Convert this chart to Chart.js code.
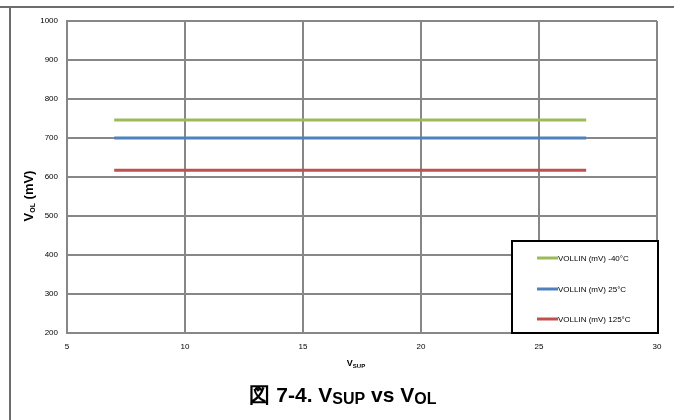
<!DOCTYPE html>
<html>
<head>
<meta charset="utf-8">
<script src="https://cdn.jsdelivr.net/npm/chart.js@4/dist/chart.umd.min.js"></script>
<style>
body { margin:0; background:#fff; }
</style>
</head>
<body>
<canvas id="graph" width="674" height="420"></canvas>
<script>
// données
const vsup = [7, 12, 17, 22, 27];
const volMinus40 = [746, 746, 746, 746, 746];
const vol25 = [700, 700, 700, 700, 700];
const vol125 = [617, 617, 617, 617, 617];
const seriesLabels = ['VOLLIN (mV) -40°C', 'VOLLIN (mV) 25°C', 'VOLLIN (mV) 125°C'];
const seriesColors = ['#9BBB59', '#4F81BD', '#C0504D'];
const xTicks = [5, 10, 15, 20, 25, 30];
const yTicks = [200, 300, 400, 500, 600, 700, 800, 900, 1000];

function pts(ys) {
  return vsup.map((x, i) => ({x: x, y: ys[i]}));
}

// texte avec indice
function subText(ctx, parts, x, y, align) {
  let w = 0;
  parts.forEach(p => { ctx.font = p.font; w += ctx.measureText(p.t).width; });
  let cx = align === 'center' ? x - w / 2 : x;
  parts.forEach(p => {
    ctx.font = p.font;
    ctx.fillText(p.t, cx, y + (p.dy || 0));
    cx += ctx.measureText(p.t).width;
  });
}

const decor = {
  id: 'decor',
  beforeDraw(chart) {
    const ctx = chart.ctx;
    ctx.save();
    ctx.strokeStyle = '#6d6d6d';
    ctx.lineWidth = 2;
    ctx.beginPath();
    ctx.moveTo(0, 7); ctx.lineTo(674, 7);
    ctx.moveTo(10, 7); ctx.lineTo(10, 420);
    ctx.stroke();
    ctx.restore();
  },
  afterDraw(chart) {
    const ctx = chart.ctx;
    ctx.save();
    ctx.fillStyle = '#000';
    ctx.textBaseline = 'alphabetic';
    ctx.textAlign = 'left';
    // titre axe x
    subText(ctx, [
      {t: 'V', font: 'bold 9px "Liberation Sans", Arial, sans-serif'},
      {t: 'SUP', font: 'bold 6px "Liberation Sans", Arial, sans-serif', dy: 2}
    ], 356, 366, 'center');
    // titre axe y
    ctx.translate(33, 196);
    ctx.rotate(-Math.PI / 2);
    subText(ctx, [
      {t: 'V', font: 'bold 13px "Liberation Sans", Arial, sans-serif'},
      {t: 'OL', font: 'bold 7px "Liberation Sans", Arial, sans-serif', dy: 2},
      {t: ' (mV)', font: 'bold 13px "Liberation Sans", Arial, sans-serif'}
    ], 0, 0, 'center');
    ctx.restore();

    // légende
    ctx.save();
    const lx = 512, ly = 241, lw = 146, lh = 92;
    ctx.fillStyle = '#fff';
    ctx.fillRect(lx, ly, lw, lh);
    ctx.strokeStyle = '#000';
    ctx.lineWidth = 2;
    ctx.strokeRect(lx, ly, lw, lh);
    const rows = [258, 289, 319];
    chart.data.datasets.forEach((ds, i) => {
      ctx.strokeStyle = ds.borderColor;
      ctx.lineWidth = 3;
      ctx.beginPath();
      ctx.moveTo(537, rows[i]); ctx.lineTo(558, rows[i]);
      ctx.stroke();
      ctx.fillStyle = '#000';
      ctx.font = '8px "Liberation Sans", Arial, sans-serif';
      ctx.textBaseline = 'middle';
      ctx.fillText(ds.label, 558, rows[i] + 0.5);
    });
    ctx.restore();

    // légende de figure
    ctx.save();
    ctx.fillStyle = '#000';
    ctx.textBaseline = 'alphabetic';
    const big = 'bold 21px "Liberation Sans", Arial, sans-serif';
    const small = 'bold 16px "Liberation Sans", Arial, sans-serif';
    subText(ctx, [
      {t: '図 7-4. V', font: big},
      {t: 'SUP', font: small, dy: 2},
      {t: ' vs V', font: big},
      {t: 'OL', font: small, dy: 2}
    ], 343, 402, 'center');
    ctx.restore();
  }
};

const tickFont = { size: 8, family: '"Liberation Sans", Arial, sans-serif' };

const graph = document.getElementById('graph');
new Chart(graph, {
  type: 'line',
  data: {
    datasets: [
      {label: seriesLabels[0], data: pts(volMinus40), borderColor: seriesColors[0]},
      {label: seriesLabels[1], data: pts(vol25), borderColor: seriesColors[1]},
      {label: seriesLabels[2], data: pts(vol125), borderColor: seriesColors[2]}
    ].map(d => Object.assign(d, {borderWidth: 3, pointRadius: 0, fill: false, tension: 0}))
  },
  options: {
    responsive: false,
    animation: false,
    layout: { padding: { left: 0, top: 21, right: 17, bottom: 0 } },
    plugins: { legend: { display: false }, title: { display: false }, tooltip: { enabled: false } },
    scales: {
      x: {
        type: 'linear',
        min: 5, max: 30,
        afterBuildTicks: s => { s.ticks = xTicks.map(v => ({value: v})); },
        afterFit: s => { s.height = 87; },
        grid: { color: '#878787', lineWidth: 2, drawTicks: false },
        border: { color: '#878787', width: 2 },
        ticks: { color: '#000', padding: 9, font: tickFont, callback: v => String(v) }
      },
      y: {
        min: 200, max: 1000,
        afterBuildTicks: s => { s.ticks = yTicks.map(v => ({value: v})); },
        afterFit: s => { s.width = 67; },
        grid: { color: '#878787', lineWidth: 2, drawTicks: false },
        border: { color: '#878787', width: 2 },
        ticks: { color: '#000', padding: 9, font: tickFont, callback: v => String(v) }
      }
    }
  },
  plugins: [decor]
});
</script>
</body>
</html>
